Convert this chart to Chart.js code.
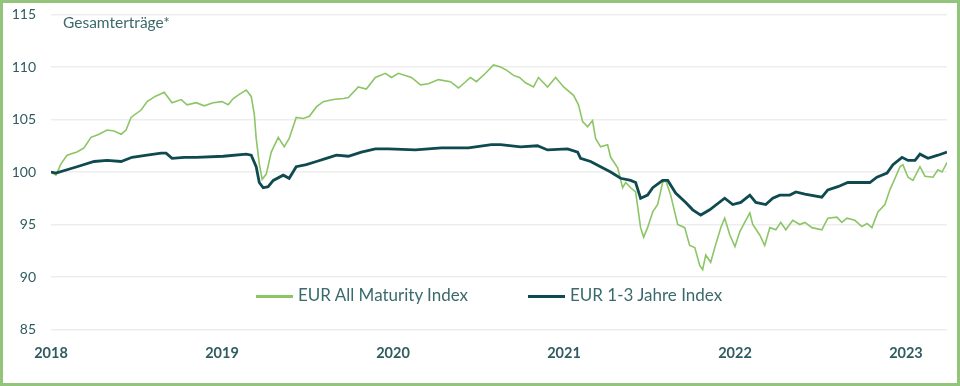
<!DOCTYPE html>
<html lang="de">
<head>
<meta charset="UTF-8">
<title>Gesamterträge</title>
<script src="https://cdn.jsdelivr.net/npm/chart.js"></script>
<style>
    html, body { margin: 0; padding: 0; background: #fff; }
    #rahmen {
        position: relative; width: 960px; height: 386px;
        box-sizing: border-box; border: 3px solid #93c47b; background: #fff;
        font-family: Lato, "Open Sans", sans-serif;
    }
    #rahmen canvas { display: block; }
    #titel {
        position: absolute; left: 60px; top: 10px;
        font-size: 15.5px; color: #3b6a6d;
    }
    .leg { position: absolute; top: 281px; font-size: 17px; color: #3b6a6d; white-space: nowrap; }
    .leg span { display: inline-block; width: 37px; vertical-align: middle; margin-right: 5px; }
</style>
</head>
<body>
<div id="rahmen">
    <canvas id="chart" width="954" height="380"></canvas>
    <div id="titel">Gesamterträge*</div>
    <div class="leg" style="left:253px"><span style="height:3px;background:#8cc566"></span>EUR All Maturity Index</div>
    <div class="leg" style="left:525px"><span style="height:3px;background:#0f4a50"></span>EUR 1-3 Jahre Index</div>
</div>

<script>
    const allMatX = [2018.000, 2018.029, 2018.059, 2018.094, 2018.152, 2018.193, 2018.234, 2018.281, 2018.328, 2018.369,
        2018.410, 2018.439, 2018.468, 2018.527, 2018.562, 2018.609, 2018.662, 2018.708, 2018.761, 2018.796,
        2018.849, 2018.896, 2018.948, 2019.000, 2019.036, 2019.066, 2019.101, 2019.142, 2019.171, 2019.189,
        2019.200, 2019.218, 2019.235, 2019.259, 2019.288, 2019.329, 2019.364, 2019.393, 2019.434, 2019.475,
        2019.511, 2019.552, 2019.592, 2019.651, 2019.710, 2019.739, 2019.797, 2019.844, 2019.897, 2019.956,
        2019.991, 2020.032, 2020.108, 2020.161, 2020.207, 2020.266, 2020.336, 2020.383, 2020.453, 2020.488,
        2020.541, 2020.588, 2020.629, 2020.664, 2020.705, 2020.740, 2020.775, 2020.822, 2020.851, 2020.904,
        2020.951, 2020.998, 2021.056, 2021.085, 2021.109, 2021.138, 2021.167, 2021.185, 2021.214, 2021.255,
        2021.273, 2021.314, 2021.343, 2021.361, 2021.390, 2021.419, 2021.448, 2021.466, 2021.489, 2021.519,
        2021.548, 2021.577, 2021.595, 2021.624, 2021.665, 2021.706, 2021.735, 2021.765, 2021.794, 2021.811,
        2021.829, 2021.858, 2021.882, 2021.917, 2021.940, 2021.970, 2022.000, 2022.028, 2022.057, 2022.087,
        2022.104, 2022.145, 2022.174, 2022.204, 2022.239, 2022.268, 2022.297, 2022.338, 2022.379, 2022.409,
        2022.450, 2022.508, 2022.543, 2022.596, 2022.625, 2022.655, 2022.701, 2022.742, 2022.772, 2022.801,
        2022.836, 2022.877, 2022.906, 2022.936, 2022.965, 2022.982, 2023.012, 2023.041, 2023.082, 2023.111,
        2023.158, 2023.187, 2023.211, 2023.240];
    const allMatWerte = [100.0, 99.7, 100.8, 101.6, 101.9, 102.3, 103.3, 103.6, 104.0, 103.9,
        103.6, 104.0, 105.2, 105.9, 106.7, 107.2, 107.6, 106.6, 106.9, 106.4,
        106.6, 106.3, 106.6, 106.7, 106.4, 107.0, 107.4, 107.8, 107.2, 105.5,
        103.2, 100.8, 99.3, 99.8, 101.9, 103.3, 102.4, 103.2, 105.2, 105.1,
        105.3, 106.2, 106.7, 106.9, 107.0, 107.1, 108.1, 107.9, 109.0, 109.4,
        109.0, 109.4, 109.0, 108.3, 108.4, 108.8, 108.6, 108.0, 109.0, 108.6,
        109.4, 110.2, 110.0, 109.7, 109.2, 109.0, 108.5, 108.1, 109.0, 108.1,
        109.0, 108.1, 107.3, 106.4, 104.8, 104.3, 104.9, 103.2, 102.4, 102.6,
        101.4, 100.4, 98.5, 99.0, 98.5, 98.1, 94.7, 93.8, 94.7, 96.2,
        96.9, 99.0, 99.2, 97.8, 95.0, 94.7, 93.0, 92.8, 91.1, 90.7,
        92.1, 91.4, 92.8, 94.7, 95.6, 94.0, 92.9, 94.3, 95.2, 96.1,
        95.0, 94.0, 93.0, 94.7, 94.5, 95.2, 94.5, 95.4, 95.0, 95.2,
        94.7, 94.5, 95.6, 95.7, 95.2, 95.6, 95.4, 94.8, 95.1, 94.7,
        96.2, 96.9, 98.3, 99.4, 100.5, 100.7, 99.5, 99.2, 100.5, 99.6,
        99.5, 100.2, 100.0, 100.9];

    const kurzX = [2018.000, 2018.029, 2018.152, 2018.252, 2018.328, 2018.410, 2018.474, 2018.562, 2018.644, 2018.673,
        2018.708, 2018.779, 2018.849, 2019.007, 2019.142, 2019.171, 2019.200, 2019.218, 2019.241, 2019.270,
        2019.300, 2019.358, 2019.393, 2019.434, 2019.493, 2019.552, 2019.610, 2019.669, 2019.739, 2019.815,
        2019.897, 2019.973, 2020.131, 2020.283, 2020.441, 2020.576, 2020.629, 2020.746, 2020.845, 2020.904,
        2021.021, 2021.080, 2021.097, 2021.156, 2021.214, 2021.273, 2021.331, 2021.390, 2021.419, 2021.448,
        2021.489, 2021.519, 2021.577, 2021.607, 2021.653, 2021.712, 2021.753, 2021.800, 2021.852, 2021.940,
        2021.987, 2022.034, 2022.087, 2022.122, 2022.180, 2022.221, 2022.262, 2022.321, 2022.356, 2022.409,
        2022.508, 2022.543, 2022.602, 2022.660, 2022.719, 2022.789, 2022.830, 2022.889, 2022.924, 2022.977,
        2023.012, 2023.053, 2023.082, 2023.129, 2023.187, 2023.240];
    const kurzWerte = [100.0, 99.9, 100.5, 101.0, 101.1, 101.0, 101.4, 101.6, 101.8, 101.8,
        101.3, 101.4, 101.4, 101.5, 101.7, 101.6, 100.5, 99.0, 98.5, 98.6,
        99.2, 99.7, 99.4, 100.5, 100.7, 101.0, 101.3, 101.6, 101.5, 101.9,
        102.2, 102.2, 102.1, 102.3, 102.3, 102.6, 102.6, 102.4, 102.5, 102.1,
        102.2, 101.9, 101.3, 101.0, 100.5, 100.0, 99.4, 99.2, 99.0, 97.5,
        97.8, 98.5, 99.2, 99.2, 98.0, 97.1, 96.4, 95.9, 96.4, 97.5,
        96.9, 97.1, 97.8, 97.1, 96.9, 97.5, 97.8, 97.8, 98.1, 97.9,
        97.6, 98.3, 98.6, 99.0, 99.0, 99.0, 99.5, 99.9, 100.7, 101.4,
        101.1, 101.1, 101.7, 101.3, 101.6, 101.9];

    const jahre = [2018, 2019, 2020, 2021, 2022, 2023];
    const yTicks = [85, 90, 95, 100, 105, 110, 115];

    const tickFarbe = "#2f5c60";

    function punkte(xs, ys) {
        return xs.map((x, i) => ({ x: x, y: ys[i] }));
    }

    new Chart(document.getElementById("chart"), {
        type: "line",
        data: {
            datasets: [{
                label: "EUR All Maturity Index",
                data: punkte(allMatX, allMatWerte),
                borderColor: "#8cc566",
                borderWidth: 1.6,
                pointRadius: 0,
                tension: 0,
                order: 1
            }, {
                label: "EUR 1-3 Jahre Index",
                data: punkte(kurzX, kurzWerte),
                borderColor: "#0f4a50",
                borderWidth: 2.8,
                pointRadius: 0,
                tension: 0,
                order: 0
            }]
        },
        options: {
            responsive: false,
            animation: false,
            devicePixelRatio: 1,
            layout: { padding: { top: 0, right: 10, bottom: 0, left: 0 } },
            plugins: { legend: { display: false }, tooltip: { enabled: false } },
            scales: {
                x: {
                    type: "linear",
                    min: 2018,
                    max: 2023.24,
                    afterBuildTicks: s => { s.ticks = jahre.map(v => ({ value: v })); },
                    afterFit: s => { s.height = 53.5; },
                    grid: { display: false, drawTicks: false },
                    border: { display: false },
                    ticks: {
                        padding: 15,
                        color: tickFarbe,
                        font: { family: "Lato", size: 14.5, weight: "bold" },
                        callback: v => String(v)
                    }
                },
                y: {
                    min: 85,
                    max: 115,
                    afterBuildTicks: s => { s.ticks = yTicks.map(v => ({ value: v })); },
                    afterFit: s => { s.width = 48; s.paddingTop = 11.5; s.paddingBottom = 0; },
                    grid: { color: "#ededed", lineWidth: 1.5, drawTicks: false },
                    border: { display: false },
                    ticks: {
                        padding: 15,
                        color: tickFarbe,
                        font: { family: "Lato", size: 14 }
                    }
                }
            }
        }
    });
</script>
</body>
</html>
